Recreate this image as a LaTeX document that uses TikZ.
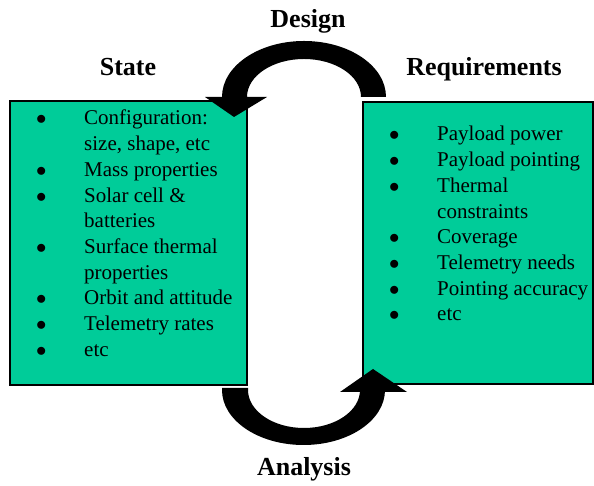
\documentclass[tikz,border=0pt]{standalone}
\usepackage{fontspec}
\setmainfont{Liberation Serif}
\definecolor{boxgreen}{RGB}{0,204,153}
\tikzset{
  listbox/.style={draw, line width=1.5pt, fill=boxgreen},
  heading/.style={font=\bfseries\fontsize{26}{30}\selectfont, inner sep=0pt, anchor=base},
  itemlist/.style={font=\fontsize{21}{25.7}\selectfont, inner sep=0pt, anchor=base west},
  turnarrow/.style={fill=black}
}
\newcommand{\itemdot}{$\bullet$}
\begin{document}
\begin{tikzpicture}[x=1pt, y=1pt]
        \useasboundingbox (0,0) rectangle (594,486);

        % Draw the two green boxes
        \filldraw[listbox] (10,101) rectangle (247,385);
        \filldraw[listbox] (363,102) rectangle (593,384);

        % Lists of items
        \node[itemlist] (statelist) at (36,361) {\begin{tabular}[t]{@{}p{48pt}@{}l@{}}
          \itemdot & Configuration:\\
                   & size, shape, etc\\
          \itemdot & Mass properties\\
          \itemdot & Solar cell \&\\
                   & batteries\\
          \itemdot & Surface thermal\\
                   & properties\\
          \itemdot & Orbit and attitude\\
          \itemdot & Telemetry rates\\
          \itemdot & etc
        \end{tabular}};
        \node[itemlist] (reqlist) at (389,345) {\begin{tabular}[t]{@{}p{48pt}@{}l@{}}
          \itemdot & Payload power\\
          \itemdot & Payload pointing\\
          \itemdot & Thermal\\
                   & constraints\\
          \itemdot & Coverage\\
          \itemdot & Telemetry needs\\
          \itemdot & Pointing accuracy\\
          \itemdot & etc
        \end{tabular}};

        % Design arrow (top, pointing down into the state box)
        \fill[turnarrow] (361,389) -- (386,389)
          arc[start angle=0, end angle=180, x radius=82, y radius=56]
          -- (205,389) -- (234,369) -- (267,389) -- (247,389)
          arc[start angle=180, end angle=0, x radius=57, y radius=38] -- cycle;

        % Analysis arrow (bottom, pointing up into the requirements box)
        \fill[turnarrow] (248,98) -- (222,98) -- (222,96)
          arc[start angle=180, end angle=360, x radius=81.5, y radius=55]
          -- (385,94) -- (407,94) -- (373,117) -- (340,94) -- (360,94) -- (360,96)
          arc[start angle=360, end angle=180, x radius=56, y radius=38] -- cycle;

        % Headings
        \node[heading] (design) at (308,458) {Design};
        \node[heading] (state) at (128,410) {State};
        \node[heading] (requirements) at (484,410) {Requirements};
        \node[heading] (analysis) at (304,10) {Analysis};
\end{tikzpicture}
\end{document}
